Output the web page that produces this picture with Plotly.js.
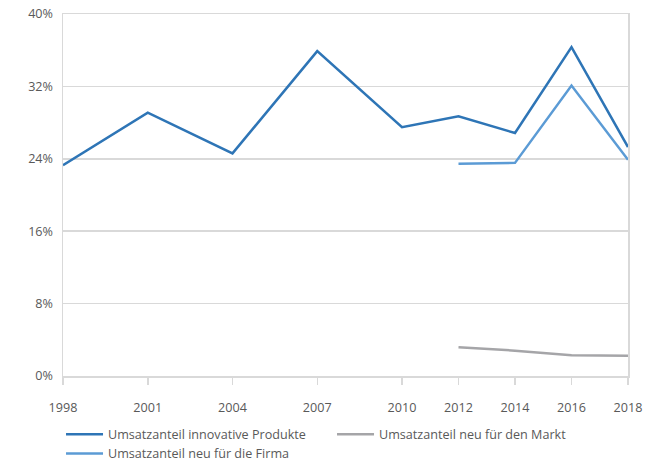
<!DOCTYPE html>
<html>
<head>
<meta charset="utf-8">
<script src="https://cdn.plot.ly/plotly-3.0.1.min.js"></script>
<style>html,body{margin:0;padding:0;background:#fff}#chart{width:654px;height:463px}</style>
</head>
<body>
<div id="chart"></div>
<script>
const years = [1998, 2001, 2004, 2007, 2010, 2012, 2014, 2016, 2018];
const innovative = [23.3, 29.1, 24.6, 35.9, 27.5, 28.7, 26.85, 36.35, 25.3];
const firmaYears = [2012, 2014, 2016, 2018];
const firma = [23.45, 23.55, 32.1, 23.9];
const marktYears = [2012, 2014, 2016, 2018];
const markt = [3.17, 2.8, 2.3, 2.25];
const yTicks = [0, 8, 16, 24, 32, 40];
const yTickText = ['0%', '8%', '16%', '24%', '32%', '40%'];

const font = {family: 'Open Sans, Noto Sans, sans-serif', size: 12.6, color: '#595959'};

const traces = [
  {x: years, y: innovative, name: 'Umsatzanteil innovative Produkte', mode: 'lines',
   line: {color: '#2E75B6', width: 2.5}},
  {x: marktYears, y: markt, name: 'Umsatzanteil neu für den Markt', mode: 'lines',
   line: {color: '#A5A5A8', width: 2.5}},
  {x: firmaYears, y: firma, name: 'Umsatzanteil neu für die Firma', mode: 'lines',
   line: {color: '#5B9BD5', width: 2.5}}
];

const layout = {
  width: 654, height: 463,
  margin: {l: 63, r: 26, t: 14, b: 87, autoexpand: false},
  paper_bgcolor: '#fff', plot_bgcolor: '#fff',
  font: font,
  showlegend: true,
  legend: {orientation: 'h', x: -0.0035, xanchor: 'left', y: -0.12, yanchor: 'top',
           entrywidth: 219, entrywidthmode: 'pixels', itemwidth: 37, font: font, tracegroupgap: 0},
  xaxis: {range: [1998, 2018], tickvals: years, ticktext: years.map(String),
          showgrid: false, zeroline: false, showline: true, linecolor: '#D9D9D9', linewidth: 1.5,
          mirror: true, ticks: 'outside', ticklen: 7, tickcolor: '#D9D9D9', tickwidth: 1.5,
          ticklabelstandoff: 12, tickfont: font},
  yaxis: {range: [0, 40], tickvals: yTicks, ticktext: yTickText,
          showgrid: true, gridcolor: '#D9D9D9', gridwidth: 1.5, zeroline: false,
          showline: true, linecolor: '#D9D9D9', linewidth: 1.5, mirror: true,
          ticks: '', tickfont: font, ticklabelstandoff: 6}
};

Plotly.newPlot('chart', traces, layout, {displayModeBar: false, staticPlot: true});
</script>
</body>
</html>
